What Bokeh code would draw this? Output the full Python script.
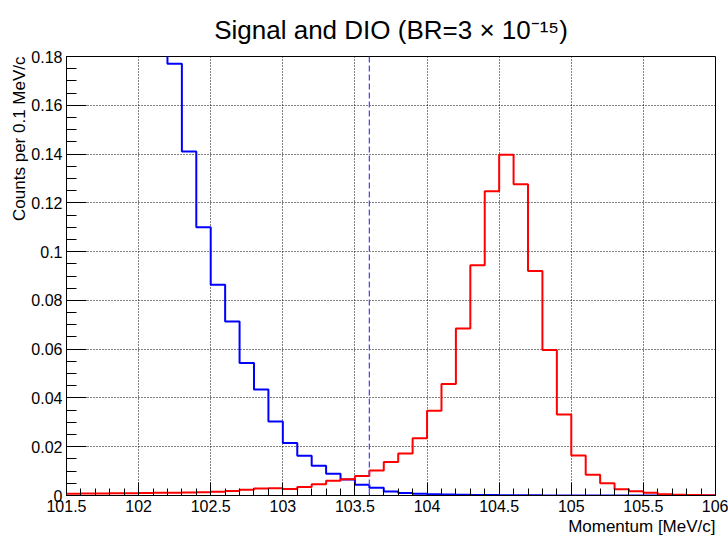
import numpy as np
from bokeh.plotting import figure
from bokeh.models import FixedTicker, Span, Range1d, Title
from bokeh.embed import file_html
from bokeh.resources import INLINE

# ---- data (histogram, 0.1 MeV/c bins from 101.5 to 106.0) ----
bin_start = 101.5
bin_width = 0.1
n_bins = 45

signal = [
    0.0007, 0.0008, 0.0008, 0.0009, 0.0009,
    0.0010, 0.0011, 0.0011, 0.0012, 0.0013, 0.0015, 0.0018, 0.0024, 0.0029, 0.0030,
    0.0027, 0.0035, 0.0046, 0.0060, 0.0067, 0.0080, 0.0102, 0.0137, 0.0172, 0.0235,
    0.0347, 0.0457, 0.0685, 0.0944, 0.1248, 0.1397, 0.1276, 0.0921, 0.0597, 0.0332,
    0.0164, 0.0085, 0.0050, 0.0026, 0.0017, 0.0011, 0.0005, 0.0003, 0.0002, 0.0001,
]
dio = [
    0.62, 0.54, 0.46, 0.39, 0.33,
    0.27, 0.22, 0.177, 0.141, 0.110, 0.0864, 0.0713, 0.0543, 0.0435, 0.0303,
    0.0215, 0.0163, 0.0122, 0.0089, 0.0066, 0.0044, 0.0032, 0.0016, 0.0010, 0.0007,
    0.0005, 0.0004, 0.0003, 0.0002, 0.0002, 0.0001, 0.0001, 0.0001, 0.0, 0.0,
    0.0, 0.0, 0.0, 0.0, 0.0, 0.0, 0.0, 0.0, 0.0, 0.0,
]
cut_momentum = 103.6

x_ticks = [101.5, 102.0, 102.5, 103.0, 103.5, 104.0, 104.5, 105.0, 105.5, 106.0]
x_tick_labels = ["101.5", "102", "102.5", "103", "103.5", "104", "104.5", "105", "105.5", "106"]
y_ticks = [0.0, 0.02, 0.04, 0.06, 0.08, 0.1, 0.12, 0.14, 0.16, 0.18]
y_tick_labels = ["0", "0.02", "0.04", "0.06", "0.08", "0.1", "0.12", "0.14", "0.16", "0.18"]

title_text = "Signal and DIO (BR=3 \u00d7 10\u207b\u00b9\u2075)"
x_title = "Momentum [MeV/c]"
y_title = "Counts per 0.1 MeV/c"

FONT = "Liberation Sans"

edges = np.round(bin_start + bin_width * np.arange(n_bins + 1), 2)


def step_xy(vals):
    xs, ys = [], []
    for i, v in enumerate(vals):
        xs += [edges[i], edges[i + 1]]
        ys += [v, v]
    return xs, ys


p = figure(width=728, height=535,
           x_range=Range1d(101.5, 106.0), y_range=Range1d(0.0, 0.18),
           output_backend="svg", toolbar_location=None,
           min_border_left=66, min_border_right=13,
           min_border_top=56, min_border_bottom=40,
           background_fill_color="white", border_fill_color="white")

p.title.text = title_text
p.title.align = "center"
p.title.vertical_align = "top"
p.title.text_font = FONT
p.title.text_font_size = "26px"
p.title.text_font_style = "normal"
p.title.text_color = "black"
p.title.standoff = 20

p.outline_line_color = "black"
p.outline_line_width = 1

# ticks
p.xaxis.ticker = FixedTicker(ticks=x_ticks,
                             minor_ticks=list(np.round(np.arange(101.5, 106.01, 0.1), 2)))
p.yaxis.ticker = FixedTicker(ticks=y_ticks,
                             minor_ticks=list(np.round(np.arange(0.0, 0.1801, 0.005), 3)))
p.xaxis.major_label_overrides = {t: s for t, s in zip(x_ticks, x_tick_labels)}
p.yaxis.major_label_overrides = {t: s for t, s in zip(y_ticks, y_tick_labels)}

for ax in (p.xaxis, p.yaxis):
    ax.axis_line_color = "black"
    ax.axis_line_width = 1
    ax.major_tick_line_color = "black"
    ax.minor_tick_line_color = "black"
    ax.major_tick_out = 0
    ax.minor_tick_out = 0
    ax.major_label_text_font = FONT
    ax.major_label_text_font_size = "16px"
    ax.major_label_text_color = "black"

p.xaxis.major_tick_in = 13
p.xaxis.minor_tick_in = 7
p.xaxis.major_label_standoff = 4
p.yaxis.major_tick_in = 20
p.yaxis.minor_tick_in = 10
p.yaxis.major_label_standoff = 4

for g in (p.xgrid, p.ygrid):
    g.grid_line_color = "black"
    g.grid_line_dash = "1 2"
    g.grid_line_width = 1
    g.grid_line_alpha = 1.0

# histograms
bx, by = step_xy(dio)
p.line(bx, by, line_color="#0000ff", line_width=2)
sx, sy = step_xy(signal)
p.line(sx, sy, line_color="#ff0000", line_width=2)

p.add_layout(Span(location=cut_momentum, dimension="height",
                  line_color="#4a4aff", line_dash="6 3", line_width=1.3))

# axis titles (right / top aligned, ROOT style)
p.add_layout(Title(text=x_title, align="right", vertical_align="bottom",
                   standoff=0, offset=0,
                   text_font=FONT, text_font_size="17px", text_font_style="normal",
                   text_color="black"), "below")
p.add_layout(Title(text=y_title, align="right", vertical_align="bottom",
                   standoff=0, offset=0,
                   text_font=FONT, text_font_size="17px", text_font_style="normal",
                   text_color="black"), "left")

open("out.html", "w").write(file_html(p, INLINE))
